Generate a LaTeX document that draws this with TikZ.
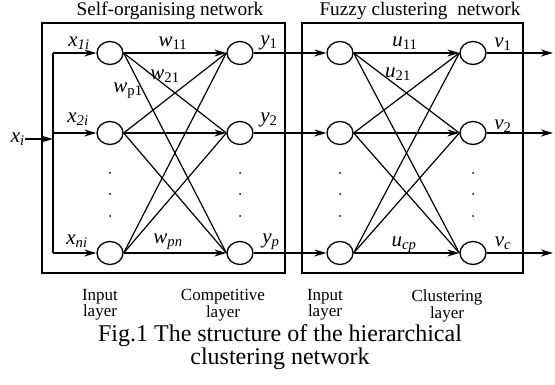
\documentclass[tikz,border=0pt]{standalone}
\usepackage{fontspec}
\setmainfont{Liberation Serif}
\usetikzlibrary{shapes.geometric,arrows.meta}
\begin{document}
\begin{tikzpicture}[x=1pt,y=-1pt,
  neuron/.style={ellipse,draw,line width=1.3pt,minimum width=26pt,minimum height=23pt,inner sep=0pt},
  wire/.style={line width=1.2pt},
  feed/.style={line width=1.2pt,-{Stealth[length=12pt,width=7pt]}},
  var/.style={font=\fontsize{21}{21}\selectfont\itshape,inner sep=0pt},
  layername/.style={font=\fontsize{17}{15}\selectfont,align=center,inner sep=0pt}]
\useasboundingbox (0,0) rectangle (555,385);
\node[font=\fontsize{19.3}{19}\selectfont] (title1) at (170,11) {Self-organising network};
\node[font=\fontsize{19.3}{19}\selectfont] (title2) at (420,11) {Fuzzy clustering\ \ network};
\draw[line width=1.5pt] (42,23) rectangle (285,273);
\draw[line width=1.5pt] (302,23) rectangle (523,273);
% neurons and straight links
\foreach \i/\yy in {1/53,2/133,3/253}
{ \node[neuron] (in\i) at (110,\yy) {};
  \node[neuron] (cp\i) at (240,\yy) {};
  \node[neuron] (fi\i) at (340,\yy) {};
  \node[neuron] (cl\i) at (473,\yy) {};
  \coordinate (bus\i) at (53,\yy);
  \coordinate (out\i) at (553,\yy);
  \draw[feed] (bus\i) -- (in\i);
  \draw[feed] (in\i) -- (cp\i);
  \draw[feed] (cp\i) -- (fi\i);
  \draw[feed] (fi\i) -- (cl\i);
  \draw[feed] (cl\i) -- (out\i);}
% cross links
\foreach \i in {1,2,3}
  \foreach \j in {1,2,3}
  { \ifnum\i=\j\else
      \draw[wire] (in\i.east) -- (cp\j.west);
      \draw[wire] (fi\i.east) -- (cl\j.west);
    \fi}
\draw[wire] (bus1) -- (bus3);
\coordinate (busx) at (53,139);
\node[var,anchor=east] (xi) at (25,139) {x\textsubscript{i}};
\draw[feed] (xi) -- (busx);
% dots
\foreach \xx in {110,240,340,473}
  \foreach \yy in {173,194,216}
  {\fill (\xx,\yy) circle (1pt);}
% labels
\node[var] (lx1) at (79,43) {x\textsubscript{1i}};
\node[var] (lx2) at (78,119) {x\textsubscript{2i}};
\node[var] (lxn) at (77,241) {x\textsubscript{ni}};
\node[var] (lw11) at (173,43) {w\textsubscript{\upshape 11}};
\node[var] (lw21) at (165,76) {w\textsubscript{\upshape 21}};
\node[var] (lwp1) at (128,91) {w\textsubscript{\upshape p1}};
\node[var] (lwpn) at (168,242) {w\textsubscript{pn}};
\node[var] (ly1) at (269,43) {y\textsubscript{\upshape 1}};
\node[var] (ly2) at (269,120) {y\textsubscript{\upshape 2}};
\node[var] (lyp) at (271,242) {y\textsubscript{p}};
\node[var] (lu11) at (405,43) {u\textsubscript{\upshape 11}};
\node[var] (lu21) at (398,74) {u\textsubscript{\upshape 21}};
\node[var] (lucp) at (404,245) {u\textsubscript{cp}};
\node[var] (lv1) at (503,44) {v\textsubscript{\upshape 1}};
\node[var] (lv2) at (503,126) {v\textsubscript{\upshape 2}};
\node[var] (lvc) at (503,243) {v\textsubscript{c}};
% layer names and caption
\node[layername] (nin1) at (100,305) {Input\\layer};
\node[layername] (ncp) at (223,305) {Competitive\\layer};
\node[layername] (nin2) at (325,305) {Input\\layer};
\node[layername] (ncl) at (447,306) {Clustering\\layer};
\node[font=\fontsize{24}{21}\selectfont,align=center,inner sep=0pt] (caption) at (280,347)
  {Fig.1 The structure of the hierarchical\\clustering network};
\end{tikzpicture}
\end{document}
